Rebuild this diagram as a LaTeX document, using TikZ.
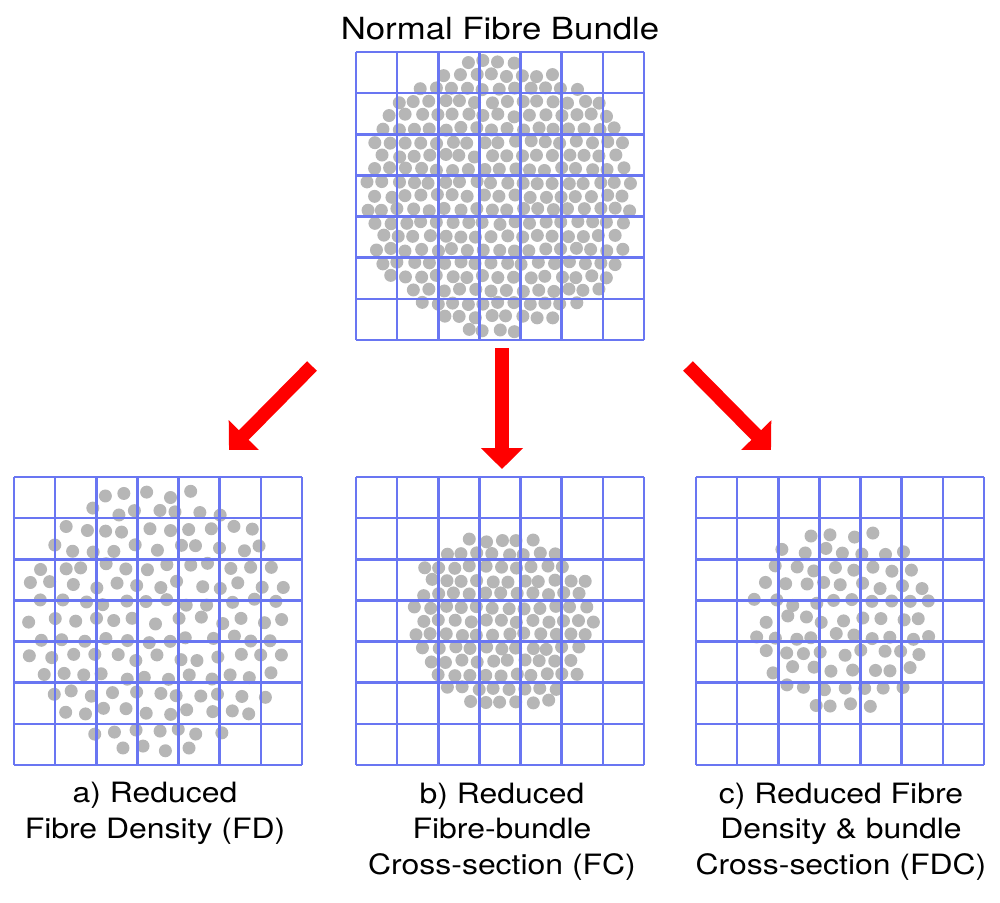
\documentclass[tikz,border=0pt]{standalone}
\usepackage{fontspec}
\setmainfont{TeX Gyre Heros}
\usepackage{tikz}
\usetikzlibrary{arrows.meta}

% one panel of 7 x 7 cells, top left corner at (#1,#2)
\newcommand{\fibregrid}[2]{%
  \foreach \k in {0,...,7}{
    \draw[cellline] ({#1+41.143*\k},#2) -- ++(0,288);
    \draw[cellline] (#1,{#2+41.143*\k}) -- ++(288,0);
  }}

% fibres on a shaken lattice: centre (#1,#2), radius #3, spacing #4, shake #5
\newcommand{\fibrebundle}[5]{%
  \foreach \j in {-12,...,12}{
    \foreach \i in {-18,...,18}{
      \pgfmathsetmacro{\fx}{(\i+0.5*\j)*#4+#5*rand}
      \pgfmathsetmacro{\fy}{0.866*\j*#4+#5*rand}
      \pgfmathtruncatemacro{\fin}{veclen(\fx,\fy)<#3 ? 1 : 0}
      \ifnum\fin=1 \fill[fibre] ({#1+\fx},{#2+\fy}) circle[radius=3.25pt]; \fi
    }
  }}

\begin{document}
\begin{tikzpicture}[x=0.5pt,y=-0.5pt,
    cellline/.style={draw={rgb,255:red,105;green,118;blue,242},line width=1.3pt},
    fibre/.style={fill={rgb,255:red,182;green,182;blue,182}},
    redarrow/.style={draw=red,line width=6.8pt,-{Triangle[length=10.5pt,width=20.5pt]}},
    headtext/.style={inner sep=0pt,xscale=1.14,font=\fontsize{15.25}{18}\selectfont},
    panellabel/.style={inner sep=0pt,xscale=1.14,align=center,
                       font=\fontsize{14}{17.75}\selectfont}]
  \useasboundingbox (0,0) rectangle (1000,902);

  % fibres first, cells over them
  \pgfmathsetseed{11}
  \fibrebundle{499}{196}{137}{15.5}{1.5}
  \pgfmathsetseed{23}
  \fibrebundle{157}{621}{136}{21}{4}
  \pgfmathsetseed{37}
  \fibrebundle{501}{621}{93}{15.5}{1.5}
  \pgfmathsetseed{41}
  \fibrebundle{843}{619}{93}{19.5}{3.5}

  \fibregrid{356}{52}
  \fibregrid{14}{477}
  \fibregrid{356}{477}
  \fibregrid{696}{477}

  % base = baseline of the last line
  \node[headtext,anchor=base] (normal) at (500,39) {Normal Fibre Bundle};
  \node[panellabel,anchor=base] (fd)  at (155,838) {a) Reduced\\Fibre Density (FD)};
  \node[panellabel,anchor=base] (fc)  at (502,874) {b) Reduced\\Fibre-bundle\\Cross-section (FC)};
  \node[panellabel,anchor=base] (fdc) at (841,874) {c) Reduced Fibre\\Density \& bundle\\Cross-section (FDC)};

  \coordinate (fd from)  at (312,366);
  \coordinate (fd to)    at (229,450);
  \coordinate (fc from)  at (502,348);
  \coordinate (fc to)    at (502,469);
  \coordinate (fdc from) at (688,366);
  \coordinate (fdc to)   at (771,450);

  \draw[redarrow] (fd from)  -- (fd to);
  \draw[redarrow] (fc from)  -- (fc to);
  \draw[redarrow] (fdc from) -- (fdc to);
\end{tikzpicture}
\end{document}
